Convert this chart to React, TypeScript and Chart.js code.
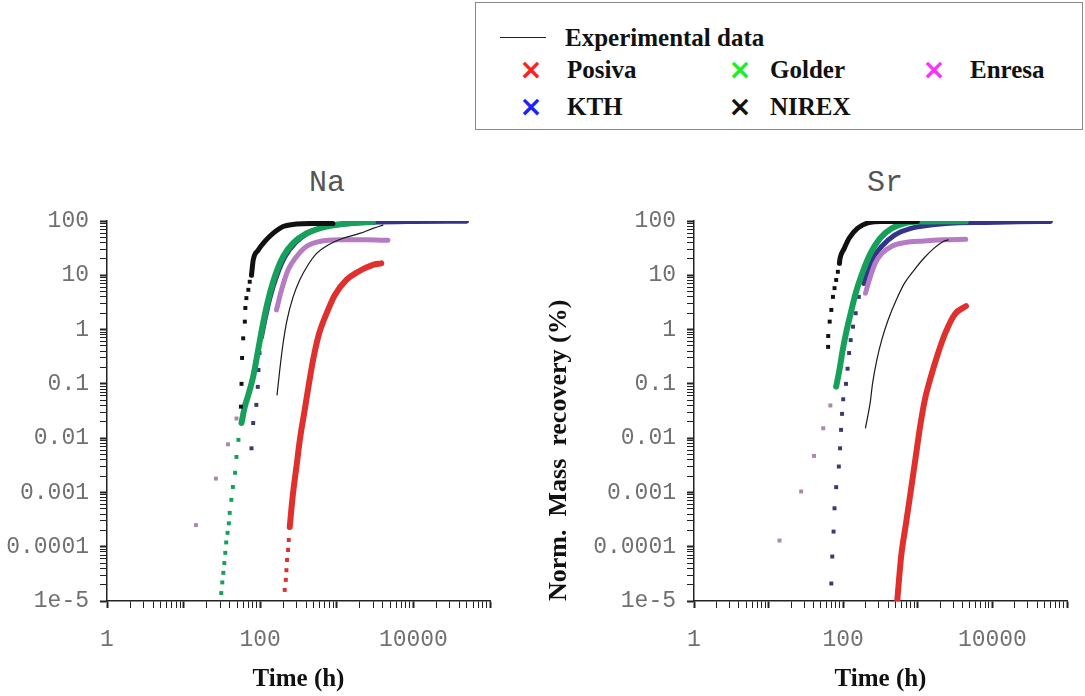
import React, { useEffect, useRef } from 'react';
import { Chart, registerables } from 'chart.js';

Chart.register(...registerables);

type Pair = [number, number];

// ---------- axis / text content ----------
const xTickValues = [1, 100, 10000];
const xTickLabels = ['1', '100', '10000'];
const yTickValues = [100, 10, 1, 0.1, 0.01, 0.001, 0.0001, 1e-5];
const yTickLabels = ['100', '10', '1', '0.1', '0.01', '0.001', '0.0001', '1e-5'];
const panelTitles = ['Na', 'Sr'];
const xAxisTitle = 'Time (h)';
const yAxisTitle = 'Norm.  Mass  recovery (%)';
const legendLine = 'Experimental data';
const legendModels = ['Posiva', 'Golder', 'Enresa', 'KTH', 'NIREX'];

// ---------- Na panel: [time (h), recovery (%)] ----------
const naExperimental: Pair[] = [[166, 0.0625], [180, 0.18], [199, 0.56], [224, 1.5], [269, 4.0], [328, 8.2], [421, 15.5], [542, 25], [768, 36], [1205, 48], [1990, 59], [2965, 73], [4000, 84]];
const naPosivaDots: Pair[] = [[209, 1.6e-5], [216, 2.45e-5], [220, 3.7e-5], [224, 5.7e-5], [231, 8.7e-5], [236, 1.33e-4], [243, 2.3e-4]];
const naPosivaCurve: Pair[] = [[243, 2.3e-4], [265, 8.3e-4], [297, 2.95e-3], [332, 0.0101], [381, 0.033], [430, 0.095], [490, 0.275], [581, 0.80], [768, 2.3], [939, 4.3], [1334, 8.2], [1874, 11.5], [2965, 15.5], [3810, 16.6]];
const naGolderDots: Pair[] = [[31, 1.4e-5], [32, 2.2e-5], [33, 3.3e-5], [34, 5.0e-5], [35, 7.7e-5], [36, 1.2e-4], [37.5, 1.8e-4], [39, 2.7e-4], [40, 4.2e-4], [42, 7.3e-4], [44, 1.26e-3], [47, 2.3e-3], [49, 4.5e-3], [52, 9.3e-3], [57, 0.019]];
const naGolderCurve: Pair[] = [[57, 0.019], [63, 0.038], [70, 0.063], [81, 0.136], [94, 0.42], [109, 1.3], [127, 3.5], [155, 9.4], [199, 22], [269, 39], [401, 59], [731, 79], [1470, 91], [2965, 97]];
const naEnresaDots: Pair[] = [[14.5, 2.5e-4], [26.4, 1.8e-3], [38, 7.7e-3], [49, 0.023]];
const naEnresaCurve: Pair[] = [[163, 2.3], [190, 5.4], [231, 12.5], [297, 22], [401, 34], [598, 42], [1090, 45], [2430, 45], [4650, 44]];
const naKthDots: Pair[] = [[77, 0.0065], [81, 0.019], [89, 0.041], [93, 0.088], [95, 0.18], [98, 0.37], [104, 0.74]];
const naKthCurve: Pair[] = [[104, 0.74], [115, 1.5], [135, 4], [165, 10], [210, 22], [290, 40], [420, 60], [700, 78], [1500, 90], [3000, 95], [10000, 98], [49400, 99]];
const naNirexDots: Pair[] = [[56, 0.038], [57, 0.10], [58, 0.30], [60, 0.69], [63, 1.4], [64, 2.5], [66, 3.8], [70, 5.4], [73, 7.6], [77, 10]];
const naNirexCurve: Pair[] = [[77, 10], [81, 19], [94, 29], [115, 42], [147, 59], [199, 79], [297, 88], [490, 90], [890, 90]];

// ---------- Sr panel ----------
const srExperimental: Pair[] = [[199, 0.0155], [231, 0.047], [247, 0.10], [282, 0.275], [328, 0.64], [400, 1.5], [514, 3.5], [661, 7.1], [892, 12.5], [1205, 20.6], [1627, 31], [2198, 42], [2555, 45]];
const srPosivaCurve: Pair[] = [[530, 1.0e-5], [598, 6.6e-5], [695, 2.7e-4], [808, 1.1e-3], [939, 4.6e-3], [1091, 0.0188], [1259, 0.055], [1486, 0.13], [1836, 0.34], [2334, 0.86], [3155, 1.94], [4430, 2.7]];
const srGolderCurve: Pair[] = [[80.5, 0.089], [89, 0.18], [98.5, 0.42], [109, 0.855], [126, 2.0], [147, 4.7], [180, 10.9], [231, 25], [311, 48], [443, 73], [661, 91], [1205, 98], [2198, 99], [4390, 99]];
const srEnresaDots: Pair[] = [[14, 1.3e-4], [27.3, 1.04e-3], [40.7, 4.7e-3], [54, 0.0152], [67.3, 0.040]];
const srEnresaCurve: Pair[] = [[199, 4.7], [231, 9.4], [268, 16.6], [328, 25], [443, 34], [661, 40], [1205, 43], [2198, 45], [4390, 46]];
const srKthDots: Pair[] = [[69.3, 2.1e-5], [71.4, 6.6e-5], [74.3, 1.9e-4], [76.5, 5.1e-4], [80.5, 1.25e-3], [87.4, 3.0e-3], [90.8, 6.5e-3], [93.6, 0.0142], [96.5, 0.028], [100, 0.052], [109, 0.10], [114.5, 0.19], [120, 0.37], [126, 0.64], [135.5, 1.13], [147, 2.0], [162, 4.0], [189, 7.1]];
const srKthCurve: Pair[] = [[189, 7.1], [243, 19], [328, 34], [489, 55], [808, 73], [1473, 84], [2690, 91], [8000, 94], [22000, 97], [60000, 98]];
const srNirexDots: Pair[] = [[62.8, 0.48], [63, 0.76], [65.9, 1.4], [69.3, 2.3], [72.9, 4.0], [76.5, 5.8], [80.5, 8.2], [84.8, 11.6], [89, 16.6]];
const srNirexCurve: Pair[] = [[89, 16.6], [90.8, 20.6], [103, 31], [120, 48], [155, 73], [219, 93], [328, 98], [540, 98], [985, 98]];

// ---------- styles ----------
const COL = {
  exp: '#1a1a1a',
  posiva: '#e0302e',
  golder: '#17a05c',
  enresa: '#b57cc4',
  enresaDot: '#a88aa6',
  kth: '#34348a',
  kthDot: '#3a3a6e',
  nirex: '#111111',
};
const LEG = { posiva: '#ff2020', golder: '#20ee20', enresa: '#ff30ff', kth: '#2020ff', nirex: '#111111' };

const toXY = (d: Pair[]) => d.map(([x, y]) => ({ x, y }));
const dots = (d: Pair[], color: string, order: number) => ({
  data: toXY(d), showLine: false, pointRadius: 2.8, pointStyle: 'rect',
  pointBackgroundColor: color, pointBorderWidth: 0, borderColor: color, order,
});
const curve = (d: Pair[], color: string, width: number, order: number) => ({
  data: toXY(d), showLine: true, borderColor: color, borderWidth: width, pointRadius: 0,
  cubicInterpolationMode: 'monotone', fill: false, order,
  borderCapStyle: 'round', borderJoinStyle: 'round',
});

function logTicks(minExp: number, maxExp: number) {
  const out: { value: number; major: boolean }[] = [];
  for (let e = minExp; e <= maxExp; e++) {
    for (let m = 1; m <= 9; m++) {
      if (e === maxExp && m > 1) break;
      out.push({ value: m * Math.pow(10, e), major: m === 1 });
    }
  }
  return out;
}

const labelFor = (vals: number[], labels: string[]) => (v: any) => {
  const n = Number(v);
  const i = vals.findIndex((t) => Math.abs(Math.log10(t) - Math.log10(n)) < 1e-6);
  return i >= 0 ? labels[i] : '';
};

const TICK_FONT = { family: '"Liberation Mono", "DejaVu Sans Mono", monospace', size: 23 };
const SERIF = '"Liberation Serif", "Times New Roman", serif';

function buildConfig(datasets: any[], yWidth: number, rightPad: number, showYTitle: boolean): any {
  const grid = {
    drawOnChartArea: false, drawTicks: true, tickLength: 7, color: '#222',
    tickWidth: (ctx: any) => (ctx.tick && ctx.tick.major ? 2 : 1),
  };
  return {
    type: 'scatter',
    data: { datasets },
    options: {
      responsive: false,
      animation: false,
      events: [],
      layout: { padding: { left: 0, right: rightPad, top: 71, bottom: 0 } },
      plugins: { legend: { display: false }, tooltip: { enabled: false }, title: { display: false } },
      scales: {
        x: {
          type: 'logarithmic', min: 1, max: 100000,
          afterBuildTicks: (s: any) => { s.ticks = logTicks(0, 5); },
          afterFit: (s: any) => { s.height = 95; },
          ticks: { autoSkip: false, maxRotation: 0, minRotation: 0, padding: 18, color: '#707070', font: TICK_FONT, callback: labelFor(xTickValues, xTickLabels) },
          grid,
          border: { display: true, color: '#222', width: 1.5 },
          title: { display: true, text: xAxisTitle, color: '#111', font: { family: SERIF, size: 25, weight: 'bold' }, padding: { top: 0, bottom: 1 } },
        },
        y: {
          type: 'logarithmic', min: 1e-5, max: 100,
          afterBuildTicks: (s: any) => { s.ticks = logTicks(-5, 2); },
          afterFit: (s: any) => { s.width = yWidth; },
          ticks: { autoSkip: false, padding: 11, color: '#707070', font: TICK_FONT, callback: labelFor(yTickValues, yTickLabels) },
          grid,
          border: { display: true, color: '#222', width: 1.5 },
          title: { display: showYTitle, text: yAxisTitle, align: 'start', color: '#111', font: { family: SERIF, size: 26, weight: 'bold' }, padding: { top: 4, bottom: 0 } },
        },
      },
    },
  };
}

function naDatasets() {
  return [
    curve(naExperimental, COL.exp, 1.2, 0),
    dots(naPosivaDots, COL.posiva, 1),
    curve(naPosivaCurve, COL.posiva, 6, 1),
    dots(naNirexDots, COL.nirex, 2),
    curve(naNirexCurve, COL.nirex, 5, 2),
    dots(naGolderDots, COL.golder, 3),
    curve(naGolderCurve, COL.golder, 6, 3),
    dots(naEnresaDots, COL.enresaDot, 4),
    curve(naEnresaCurve, COL.enresa, 5, 4),
    dots(naKthDots, COL.kthDot, 5),
    curve(naKthCurve, COL.kth, 5, 5),
  ];
}

function srDatasets() {
  return [
    curve(srExperimental, COL.exp, 1.2, 0),
    curve(srPosivaCurve, COL.posiva, 6, 1),
    dots(srNirexDots, COL.nirex, 2),
    curve(srNirexCurve, COL.nirex, 5, 2),
    curve(srGolderCurve, COL.golder, 6, 3),
    dots(srEnresaDots, COL.enresaDot, 4),
    curve(srEnresaCurve, COL.enresa, 5, 4),
    dots(srKthDots, COL.kthDot, 5),
    curve(srKthCurve, COL.kth, 5, 5),
  ];
}

const abs = (left: number, top: number, extra: any = {}) => ({ position: 'absolute' as const, left, top, ...extra });

function Cross({ cx, cy, color }: { cx: number; cy: number; color: string }) {
  return (
    <div style={abs(cx - 15, cy - 16, { width: 30, height: 32, lineHeight: '32px', textAlign: 'center', color, fontFamily: '"DejaVu Sans", sans-serif', fontWeight: 'bold', fontSize: 28 })}>×</div>
  );
}

function LegendText({ x, cy, text }: { x: number; cy: number; text: string }) {
  return (
    <div style={abs(x, cy - 15, { height: 30, lineHeight: '30px', whiteSpace: 'nowrap', fontFamily: SERIF, fontWeight: 'bold', fontSize: 25, color: '#111' })}>{text}</div>
  );
}

export default function App() {
  const leftRef = useRef<HTMLCanvasElement>(null);
  const rightRef = useRef<HTMLCanvasElement>(null);

  useEffect(() => {
    const c1 = new Chart(leftRef.current as HTMLCanvasElement, buildConfig(naDatasets(), 107, 50, false));
    const c2 = new Chart(rightRef.current as HTMLCanvasElement, buildConfig(srDatasets(), 154, 8, true));
    return () => { c1.destroy(); c2.destroy(); };
  }, []);

  const titleStyle = (cx: number) => abs(cx - 60, 165, { width: 120, height: 36, lineHeight: '36px', textAlign: 'center', fontFamily: '"Liberation Mono", monospace', fontSize: 30, color: '#555' });

  return (
    <div style={abs(0, 0, { width: 1085, height: 696, background: '#fff', overflow: 'hidden' })}>
      {/* legend box */}
      <div style={abs(475, 2, { width: 608, height: 128, border: '1px solid #8a8a8a', boxSizing: 'border-box' })} />
      <div style={abs(500, 37, { width: 46, height: 0, borderTop: '1.5px solid #222' })} />
      <LegendText x={565} cy={38} text={legendLine} />
      <Cross cx={531} cy={70} color={LEG.posiva} />
      <LegendText x={567} cy={70} text={legendModels[0]} />
      <Cross cx={740} cy={70} color={LEG.golder} />
      <LegendText x={770} cy={70} text={legendModels[1]} />
      <Cross cx={934} cy={70} color={LEG.enresa} />
      <LegendText x={970} cy={70} text={legendModels[2]} />
      <Cross cx={531} cy={107} color={LEG.kth} />
      <LegendText x={567} cy={107} text={legendModels[3]} />
      <Cross cx={740} cy={107} color={LEG.nirex} />
      <LegendText x={770} cy={107} text={legendModels[4]} />

      {/* panel titles */}
      <div style={titleStyle(327)}>{panelTitles[0]}</div>
      <div style={titleStyle(885)}>{panelTitles[1]}</div>

      {/* charts */}
      <div style={abs(0, 150, { width: 540, height: 546 })}>
        <canvas ref={leftRef} width={540} height={546} style={{ width: 540, height: 546, display: 'block' }} />
      </div>
      <div style={abs(540, 150, { width: 545, height: 546 })}>
        <canvas ref={rightRef} width={545} height={546} style={{ width: 545, height: 546, display: 'block' }} />
      </div>
    </div>
  );
}
